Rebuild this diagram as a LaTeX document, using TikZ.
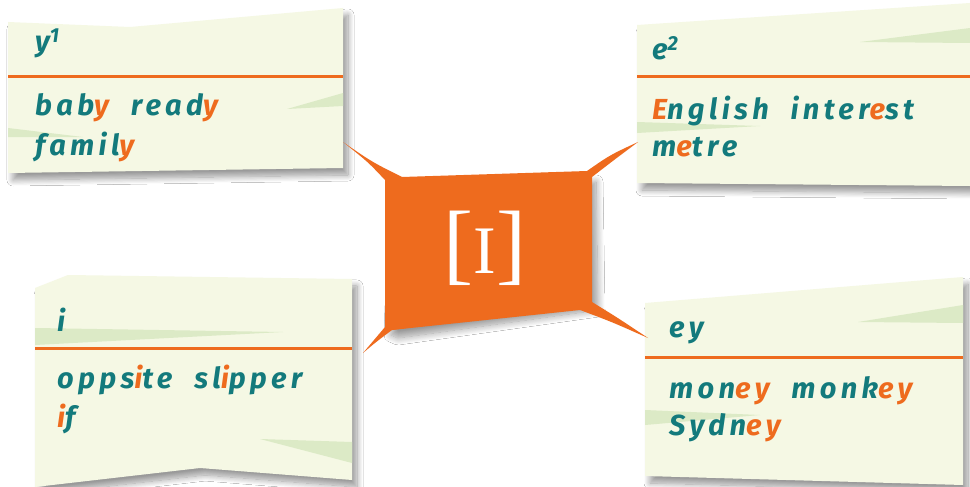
\documentclass[tikz,border=0pt]{standalone}
\usepackage{fontspec}
\newfontfamily\cardfont{Fira Sans}[LetterSpace=15,WordSpace=2]
\newfontfamily\hubfont{Liberation Serif}
\usetikzlibrary{shadows.blur}
\definecolor{cardbg}{HTML}{F5F8E4}
\definecolor{sliver}{HTML}{DCEAC6}
\definecolor{teal}{HTML}{137A7C}
\definecolor{orng}{HTML}{EE6B1E}
\tikzset{
  card/.style={fill=cardbg, blur shadow={shadow xshift=5pt, shadow yshift=-7pt, shadow opacity=40, shadow blur radius=6pt, shadow blur steps=12}},
  sliverfill/.style={fill=sliver},
  rule/.style={draw=orng, line width=3pt},
  word/.style={anchor=base west, inner sep=0pt, text=teal, font=\cardfont\bfseries\itshape\fontsize{29}{33}\selectfont},
  hubbody/.style={fill=orng, blur shadow={shadow xshift=6pt, shadow yshift=-8pt, shadow opacity=40, shadow blur radius=7pt, shadow blur steps=12}},
  hub/.style={fill=orng},
}
\newcommand{\hl}[1]{\textcolor{orng}{#1}}
\begin{document}
\begin{tikzpicture}[x=1pt,y=-1pt]
\useasboundingbox (0,0) rectangle (970,487);
\fill[white] (0,0) rectangle (970,487);

% ---- cards ----
\path[card] (8,22) -- (130,27) -- (343,8) -- (343,168) -- (8,173) -- cycle;
\path[card] (637,25) -- (970,3) -- (970,186) -- (637,183) -- cycle;
\path[card] (35,288) -- (68,275) -- (352,279) -- (352,480) -- (200,468) -- (35,487) -- cycle;
\path[card] (645,303) -- (963,277) -- (963,485) -- (645,476) -- cycle;

% ---- slivers ----
\fill[sliverfill] (343,93) -- (343,106) -- (287,109) -- cycle;
\fill[sliverfill] (8,128) -- (8,137) -- (83,137) -- cycle;
\fill[sliverfill] (970,28) -- (970,43) -- (860,42) -- cycle;
\fill[sliverfill] (637,122) -- (637,133) -- (760,126) -- cycle;
\fill[sliverfill] (35,328) -- (35,345) -- (283,332) -- cycle;
\fill[sliverfill] (352,442) -- (352,463) -- (260,439) -- cycle;
\fill[sliverfill] (963,305) -- (963,323) -- (858,322) -- cycle;
\fill[sliverfill] (645,410) -- (645,425) -- (760,415) -- cycle;

% ---- rules ----
\draw[rule] (8,77) -- (343,77);
\draw[rule] (637,77) -- (970,77);
\draw[rule] (35,348) -- (352,348);
\draw[rule] (645,357) -- (963,357);

% ---- hub ----
\path[hubbody] (390,179) -- (590,174) -- (592,302) -- (392,330) -- (385,327) -- cycle;
\path[hub] (385,180) .. controls (368,162) .. (343,142)
  .. controls (372,162) .. (402,177) -- (587,171)
  .. controls (610,155) .. (638,142)
  .. controls (614,160) .. (592,177) -- (592,302)
  .. controls (618,318) .. (648,338)
  .. controls (612,322) .. (580,310) -- (392,330)
  .. controls (376,342) .. (363,353)
  .. controls (374,340) .. (385,327) -- cycle;
\node[anchor=base, inner sep=0pt, text=white, font=\hubfont] (sym) at (485,273)
  {{\fontsize{90}{90}\selectfont[}{\fontsize{68}{68}\selectfont I}{\fontsize{90}{90}\selectfont]}};

% ---- texts ----
\node[word] (tlh) at (35,52) {y\textsuperscript{1}};
\node[word] (tl1) at (35,115) {bab\hl{y} read\hl{y}};
\node[word] (tl2) at (35,155) {famil\hl{y}};

\node[word] (trh) at (652,60) {e\textsuperscript{2}};
\node[word] (tr1) at (652,120) {\hl{E}nglish inter\hl{e}st};
\node[word] (tr2) at (652,157) {m\hl{e}tre};

\node[word] (blh) at (57,331) {i};
\node[word] (bl1) at (57,388) {opps\hl{i}te sl\hl{i}pper};
\node[word] (bl2) at (57,427) {\hl{i}f};

\node[word] (brh) at (669,337) {ey};
\node[word] (br1) at (669,398) {mon\hl{ey} monk\hl{ey}};
\node[word] (br2) at (669,435) {Sydn\hl{ey}};
\end{tikzpicture}
\end{document}
